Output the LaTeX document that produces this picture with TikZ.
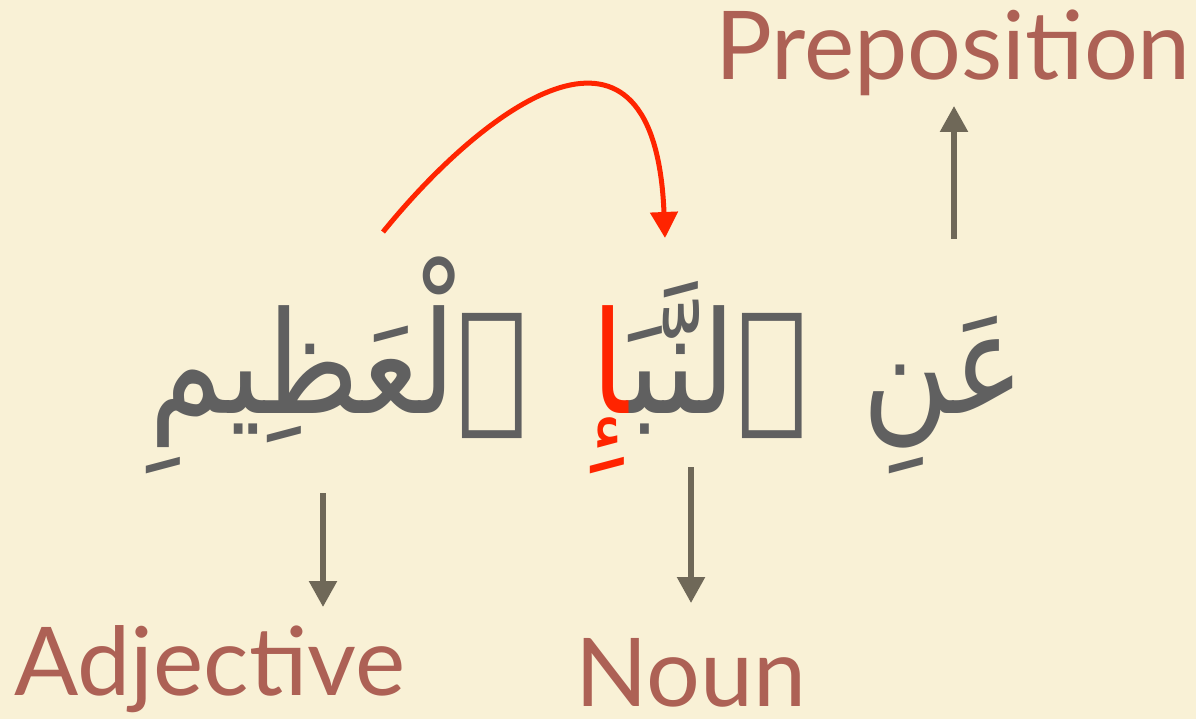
\documentclass[tikz,border=0pt]{standalone}
\usepackage{fontspec}
\usetikzlibrary{arrows.meta}
\setmainfont{Lato}
\newfontfamily\arabicfont[Script=Arabic,FakeStretch=0.84]{DejaVu Sans}
\TeXXeTstate=1
\definecolor{bgc}{RGB}{249,241,214}
\definecolor{labelc}{RGB}{173,97,85}
\definecolor{arrc}{RGB}{111,104,88}
\definecolor{arabc}{RGB}{96,96,96}
\definecolor{redc}{RGB}{255,36,0}
\tikzset{
  label/.style={anchor=base, inner sep=0pt, text=labelc, font=\fontsize{95}{110}\selectfont},
  arab/.style={anchor=base east, inner sep=0pt, text=arabc, font=\arabicfont\fontsize{142}{160}\selectfont},
  grayarrow/.style={draw=arrc, line width=5.5pt, -{Triangle[length=26pt,width=27pt]}},
  redarrow/.style={draw=redc, line width=5pt, -{Triangle[length=26pt,width=27pt]}}
}
\begin{document}
\begin{tikzpicture}[x=1pt,y=-1pt]
\fill[bgc] (0,0) rectangle (1196,719);
\useasboundingbox (0,0) rectangle (1196,719);
% labels
\node[label] (prep) at (953,80) {Preposition};
\node[label] (adj) at (210,695) {Adjective};
\node[label] (noun) at (691,706) {Noun};
% arabic words
\node[arab] (w1) at (1025,413) {\beginR عَنِ\endR};
\node[arab] (w2) at (808,413) {\beginR ٱلنَّبَ^^^^200d\endR};
\node[arab, text=redc] (w2r) at (w2.base west) {\beginR ^^^^200dإِ\endR};
\node[arab] (w3) at (528,413) {\beginR ٱلْعَظِيمِ\endR};
% arrows
\coordinate (pfrom) at (954,239);
\coordinate (pto) at (954,106);
\draw[grayarrow] (pfrom) -- (pto);
\coordinate (nfrom) at (691,467);
\coordinate (nto) at (691,603);
\draw[grayarrow] (nfrom) -- (nto);
\coordinate (afrom) at (323,493);
\coordinate (ato) at (323,607);
\draw[grayarrow] (afrom) -- (ato);
\coordinate (rfrom) at (383,232);
\coordinate (rto) at (665,238);
\draw[redarrow] (rfrom) .. controls (490,100) and (655,-15) .. (rto);
\end{tikzpicture}
\end{document}
